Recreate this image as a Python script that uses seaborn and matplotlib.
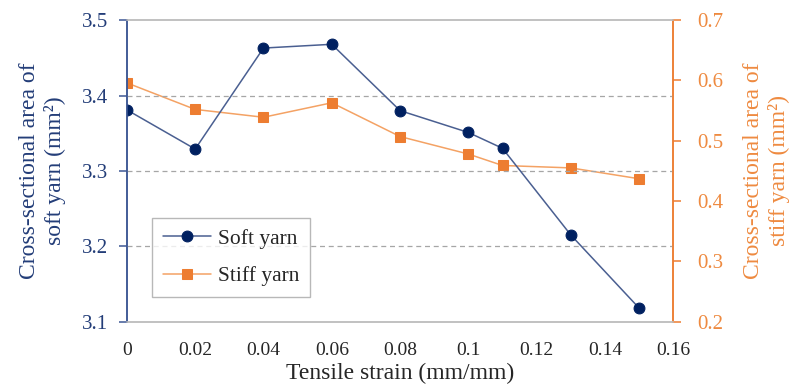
import numpy as np
import pandas as pd
import matplotlib
matplotlib.use("Agg")
import matplotlib.pyplot as plt
from matplotlib.ticker import MultipleLocator
import seaborn as sns

strain = [0, 0.02, 0.04, 0.06, 0.08, 0.10, 0.11, 0.13, 0.15]
soft_area = [3.381, 3.329, 3.463, 3.468, 3.380, 3.351, 3.330, 3.215, 3.118]
stiff_area = [0.596, 0.552, 0.539, 0.563, 0.507, 0.478, 0.459, 0.455, 0.437]

x_ticks = [0, 0.02, 0.04, 0.06, 0.08, 0.1, 0.12, 0.14, 0.16]
x_tick_labels = ["0", "0.02", "0.04", "0.06", "0.08", "0.1", "0.12", "0.14", "0.16"]
soft_ticks = [3.1, 3.2, 3.3, 3.4, 3.5]
stiff_ticks = [0.2, 0.3, 0.4, 0.5, 0.6, 0.7]

sns.set_style("white")
plt.rcParams["font.family"] = ["Liberation Serif", "DejaVu Serif"]

NAVY = "#002060"
NAVY_LINE = "#4A5F91"
NAVY_AX = "#3D5794"
NAVY_TXT = "#233D78"
ORANGE = "#ED7D31"
ORANGE_LINE = "#F4A264"
ORANGE_TXT = "#EE8A40"
GRAY = "#BFBFBF"
DARK = "#262626"

df = pd.DataFrame({"strain": strain, "soft": soft_area, "stiff": stiff_area})

fig = plt.figure(figsize=(7.93, 3.88), dpi=100)
ax = fig.add_axes([0.160, 0.171, 0.689, 0.777])
ax2 = ax.twinx()

sns.lineplot(data=df, x="strain", y="soft", ax=ax, color=NAVY_LINE, lw=1.1,
             marker="o", markersize=7.8, markerfacecolor=NAVY, markeredgecolor=NAVY,
             label="Soft yarn", legend=False)
sns.lineplot(data=df, x="strain", y="stiff", ax=ax2, color=ORANGE_LINE, lw=1.1,
             marker="s", markersize=7.8, markerfacecolor=ORANGE, markeredgecolor=ORANGE,
             label="Stiff yarn", legend=False)

ax.set_xlim(0, 0.16)
ax.set_ylim(3.1, 3.5)
ax2.set_ylim(0.2, 0.7)

ax.set_xticks(x_ticks)
ax.set_xticklabels(x_tick_labels)
ax.xaxis.set_minor_locator(MultipleLocator(0.01))
ax.set_yticks(soft_ticks)
ax.set_yticklabels([f"{v:.1f}" for v in soft_ticks])
ax2.set_yticks(stiff_ticks)
ax2.set_yticklabels([f"{v:.1f}" for v in stiff_ticks])

# dashed gridlines at the inner soft-yarn levels
for lvl in soft_ticks[1:-1]:
    ax.axhline(lvl, color="#A6A6A6", lw=0.9, ls=(0, (4, 3)), zorder=0)

for a in (ax, ax2):
    for s in a.spines.values():
        s.set_visible(True)
        s.set_linewidth(1.1)
    a.spines["top"].set_color(GRAY)
    a.spines["bottom"].set_color(GRAY)
    a.spines["left"].set_color(NAVY_AX)
    a.spines["right"].set_color(ORANGE)

ax.tick_params(axis="x", which="both", length=5, width=1, color=GRAY, direction="out",
               labelsize=14, labelcolor=DARK, pad=10)
ax.tick_params(axis="y", length=5.5, width=1.1, color=NAVY_AX, direction="out",
               labelsize=15, labelcolor=NAVY_TXT, pad=8)
ax2.tick_params(axis="y", length=6, width=1.1, color=ORANGE, direction="out",
                labelsize=15, labelcolor=ORANGE_TXT, pad=11.5)

ax.set_xlabel("Tensile strain (mm/mm)", fontsize=17, color=DARK)
ax.xaxis.set_label_coords(0.5, -0.138)
ax.set_ylabel("Cross-sectional area of\nsoft yarn (mm²)", fontsize=17,
              color=NAVY_TXT, linespacing=1.22)
ax.yaxis.set_label_coords(-0.112, 0.5)
ax2.set_ylabel("Cross-sectional area of\nstiff yarn (mm²)", fontsize=17,
               color=ORANGE_TXT, linespacing=1.22)
ax2.yaxis.set_label_coords(1.128, 0.5)

h1, l1 = ax.get_legend_handles_labels()
h2, l2 = ax2.get_legend_handles_labels()
leg = ax.legend(h1 + h2, l1 + l2, loc="lower left", bbox_to_anchor=(0.046, 0.082),
                borderaxespad=0, fontsize=15.5, frameon=True, fancybox=False,
                edgecolor="#A6A6A6", handlelength=2.25, borderpad=0.5,
                labelspacing=0.8, handletextpad=0.3)
leg.get_frame().set_linewidth(1.0)
for t in leg.get_texts():
    t.set_color(DARK)
ax.set_zorder(ax2.get_zorder() + 1)
ax.patch.set_visible(False)

fig.savefig("out.png", dpi=100)
